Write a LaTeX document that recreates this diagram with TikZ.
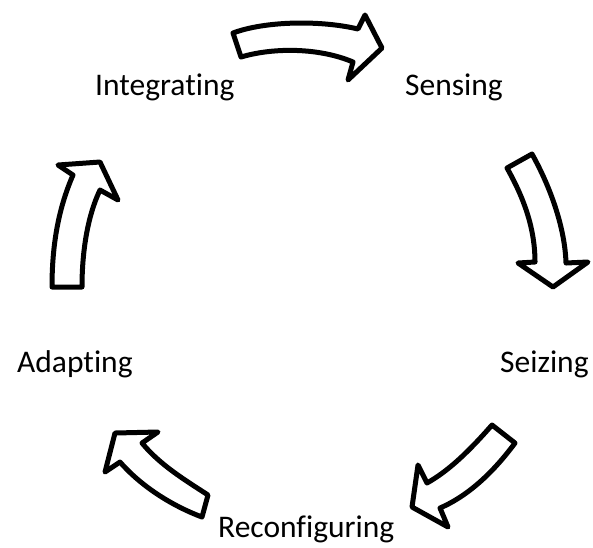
\documentclass[tikz,border=0pt]{standalone}
\usepackage{fontspec}
\setmainfont{Carlito}[Ligatures=NoCommon]
\tikzset{
  cyclearrow/.style={draw=black, fill=white, line width=5pt, line join=round},
  lbl/.style={anchor=base west, inner sep=0pt, font=\fontsize{31.5}{36}\selectfont}
}
\begin{document}
\begin{tikzpicture}[x=1pt,y=-1pt]
\useasboundingbox (0,0) rectangle (593,547);
% labels
\node[lbl] (integ) at (95,95) {Integrating};
\node[lbl] (sens) at (405,95) {Sensing};
\node[lbl] (seiz) at (500,372) {Seizing};
\node[lbl] (adap) at (17,372) {Adapting};
\node[lbl] (reco) at (218,537) {Reconfiguring};
% arrow 1 (top)
\draw[cyclearrow] (233,33) .. controls (265,21) and (320,20) .. (358,29)
  -- (365,15) -- (382,48) -- (348,80) -- (353,62)
  .. controls (320,48) and (275,47) .. (241,57) -- cycle;
% arrow 2 (right)
\draw[cyclearrow] (507,168) .. controls (525,200) and (535,230) .. (535,262)
  -- (518,263) -- (553,287) -- (588,262) -- (566,263)
  .. controls (565,230) and (552,190) .. (532,154) -- cycle;
% arrow 3 (bottom right)
\draw[cyclearrow] (492,425) .. controls (470,450) and (450,470) .. (427,483)
  -- (418,465) -- (412,507) -- (448,527) -- (440,508)
  .. controls (470,495) and (495,470) .. (515,443) -- cycle;
% arrow 4 (bottom left)
\draw[cyclearrow] (208,495) .. controls (185,480) and (160,465) .. (142,443)
  -- (158,432) -- (115,433) -- (105,472) -- (120,462)
  .. controls (140,485) and (170,505) .. (202,517) -- cycle;
% arrow 5 (left)
\draw[cyclearrow] (52,287) .. controls (52,240) and (60,205) .. (73,175)
  -- (58,165) -- (100,162) -- (118,200) -- (100,190)
  .. controls (88,215) and (82,250) .. (82,287) -- cycle;
\end{tikzpicture}
\end{document}
